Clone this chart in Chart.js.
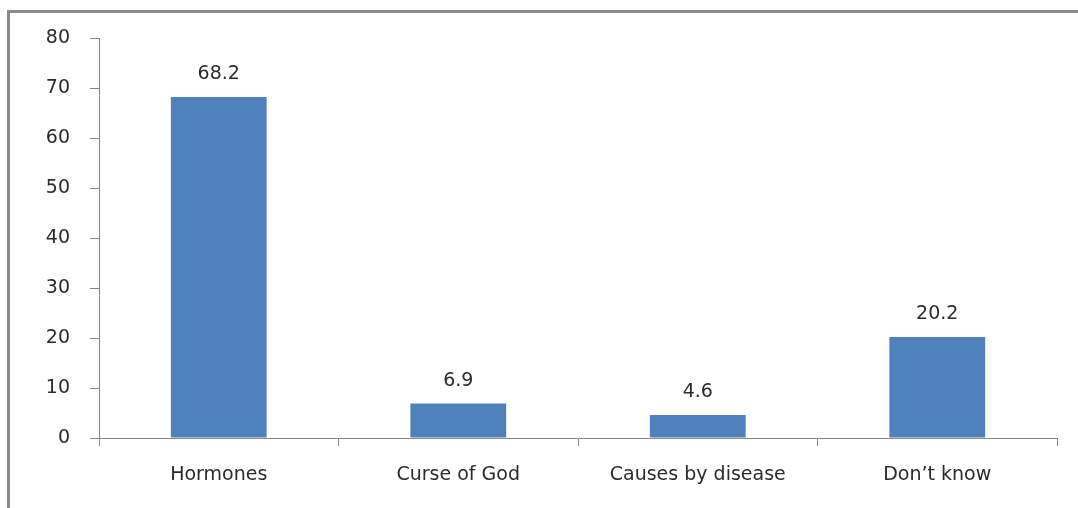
<!DOCTYPE html>
<html>
<head>
<meta charset="utf-8">
<script src="https://cdn.jsdelivr.net/npm/chart.js@4/dist/chart.umd.min.js"></script>
<style>
  body { margin: 0; background: #fff; }
  #wrap { position: relative; width: 1078px; height: 508px; overflow: hidden; }
  #frame { position: absolute; left: 7px; top: 10px; width: 1090px; height: 520px; border: 3px solid #8a8a8a; box-sizing: border-box; }
  canvas { position: absolute; left: 0; top: 0; }
</style>
</head>
<body>
<div id="wrap">
  <div id="frame"></div>
  <canvas id="chart" width="1078" height="508"></canvas>
</div>
<script>

/* Data */
const categories = ["Hormones", "Curse of God", "Causes by disease", "Don\u2019t know"];
const values = [68.2, 6.9, 4.6, 20.2];
const yTicks = [0, 10, 20, 30, 40, 50, 60, 70, 80];

const axisGray = "#868686";
const textColor = "#2b2b2b";
const fontFamily = "'DejaVu Sans', sans-serif";

/* value labels over the bars */
const barLabels = {
  id: "barLabels",
  afterDatasetsDraw(chart){
    const ctx = chart.ctx;
    const meta = chart.getDatasetMeta(0);
    ctx.save();
    ctx.font = "19px " + fontFamily;
    ctx.fillStyle = textColor;
    ctx.textAlign = "center";
    ctx.textBaseline = "bottom";
    meta.data.forEach((bar, i) => {
      ctx.fillText(values[i], bar.x, bar.y - 13);
    });
    ctx.restore();
  }
};

const ctx = document.getElementById("chart").getContext("2d");
new Chart(ctx, {
  type: "bar",
  data: {
    labels: categories,
    datasets: [{
      data: values,
      backgroundColor: "#4f81bd",
      borderWidth: 0,
      barPercentage: 0.4,
      categoryPercentage: 1.0
    }]
  },
  options: {
    responsive: false,
    animation: false,
    devicePixelRatio: 1,
    layout: { padding: { left: 0, top: 38, right: 21, bottom: 0 } },
    plugins: {
      legend: { display: false },
      tooltip: { enabled: false }
    },
    scales: {
      x: {
        afterFit(scale){ scale.height = 70; },
        grid: {
          offset: true,
          drawOnChartArea: false,
          tickLength: 8,
          color: axisGray,
          tickColor: axisGray
        },
        border: { color: axisGray, width: 1 },
        ticks: {
          padding: 18,
          color: textColor,
          font: { family: fontFamily, size: 19 }
        }
      },
      y: {
        min: 0,
        max: 80,
        afterFit(scale){ scale.width = 99; },
        afterBuildTicks(scale){ scale.ticks = yTicks.map(v => ({ value: v })); },
        grid: {
          drawOnChartArea: false,
          tickLength: 9,
          color: axisGray,
          tickColor: axisGray
        },
        border: { color: axisGray, width: 1 },
        ticks: {
          padding: 20,
          color: textColor,
          font: { family: fontFamily, size: 19 }
        }
      }
    }
  },
  plugins: [barLabels]
});
</script>
</body>
</html>
